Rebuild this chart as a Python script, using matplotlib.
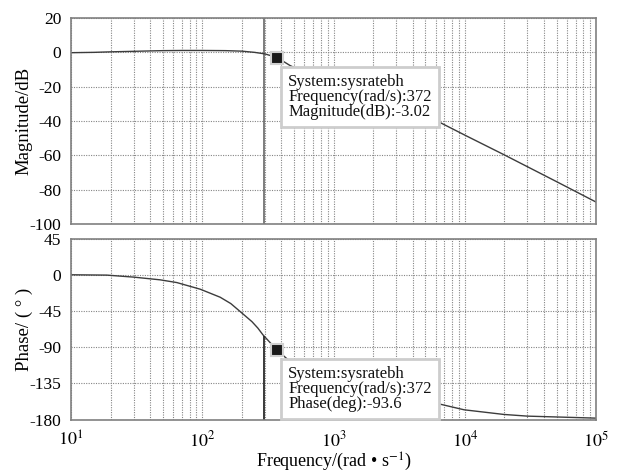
import matplotlib
matplotlib.use('Agg')
import matplotlib.pyplot as plt
import numpy as np
from matplotlib.ticker import FixedLocator, NullFormatter

# ---------------- data ----------------
mag_freq = [10, 15, 20, 30, 50, 70, 100, 150, 200, 250, 300, 372, 467, 700, 1000,
            2000, 4000, 6010, 10000, 19860, 50000, 100000]
mag_db = [-0.2, 0.0, 0.3, 0.6, 1.0, 1.1, 1.1, 1.0, 0.7, 0.0, -0.9, -3.02, -7.7,
          -14.0, -19.0, -27.0, -35.0, -39.6, -48.2, -59.6, -75.3, -87.2]

phase_freq = [10, 18.7, 30, 47.8, 64, 96.6, 137, 165, 195, 239, 265, 290, 372, 500,
              1000, 2000, 4000, 6010, 9890, 19860, 30100, 54000, 100000]
phase_deg = [0.4, 0.0, -2.5, -5.9, -9.3, -17.6, -27.6, -35.5, -45.6, -58.0, -66.0,
             -74.5, -93.6, -112.0, -138.0, -150.0, -156.0, -159.6, -167.9, -173.7,
             -175.8, -177.0, -178.3]

tip_freq = 372
tip_mag = -3.02
tip_phase = -93.6
system_name = 'sysratebh'
artifact_freq = 295  # dark vertical stroke visible in both panels

x_ticks = [10, 100, 1000, 10000, 100000]
x_ticklabels = ['$10^{1}$', '$10^{2}$', '$10^{3}$', '$10^{4}$', '$10^{5}$']
mag_ticks = [20, 0, -20, -40, -60, -80, -100]
mag_ticklabels = ['20', '0', '-20', '-40', '-60', '-80', '-100']
phase_ticks = [45, 0, -45, -90, -135, -180]
phase_ticklabels = ['45', '0', '-45', '-90', '-135', '-180']

# ---------------- style ----------------
plt.rcParams['font.family'] = ['Liberation Serif', 'DejaVu Serif']
plt.rcParams['mathtext.fontset'] = 'stix'

LINE = '#3c3c3c'
GRID = '#858585'
SPINE = '#808080'

fig = plt.figure(figsize=(6.17, 4.73), dpi=100)
fig.patch.set_facecolor('white')
ax1 = fig.add_axes([0.1151, 0.5264, 0.8509, 0.4355])
ax2 = fig.add_axes([0.1151, 0.1131, 0.8509, 0.3816])

minor = [m * 10 ** d for d in range(1, 5) for m in range(2, 10)]

for ax in (ax1, ax2):
    ax.set_xscale('log')
    ax.set_xlim(10, 1e5)
    ax.xaxis.set_major_locator(FixedLocator(x_ticks))
    ax.xaxis.set_minor_locator(FixedLocator(minor))
    ax.xaxis.set_minor_formatter(NullFormatter())
    ax.grid(True, which='both', axis='x', linestyle=(0, (1, 1.2)), color=GRID, lw=0.8)
    ax.grid(True, which='major', axis='y', linestyle=(0, (1, 1.2)), color=GRID, lw=0.8)
    ax.tick_params(which='both', length=0)
    ax.tick_params(axis='y', pad=7, labelsize=12.5)
    ax.tick_params(axis='x', pad=8, labelsize=13)
    for sp in ax.spines.values():
        sp.set_color(SPINE)
        sp.set_linewidth(1.2)
    ax.set_axisbelow(True)

# magnitude
ax1.set_ylim(-100, 20)
ax1.set_yticks(mag_ticks)
ax1.set_yticklabels(mag_ticklabels)
ax1.set_xticklabels([])
ax1.plot(mag_freq, mag_db, color=LINE, lw=1.0, zorder=2)
ax1.axvline(artifact_freq, color='#5a5a5a', lw=1.1, zorder=1.5)
ax1.set_ylabel('Magnitude/dB', fontsize=13.5)
ax1.yaxis.set_label_coords(-0.073, 0.5)

# phase
ax2.set_ylim(-180, 45)
ax2.set_yticks(phase_ticks)
ax2.set_yticklabels(phase_ticklabels)
ax2.set_xticklabels(x_ticklabels)
ax2.plot(phase_freq, phase_deg, color=LINE, lw=1.0, zorder=2)
art_ph = np.interp(np.log10(artifact_freq), np.log10(phase_freq), phase_deg)
ax2.vlines(artifact_freq, -180, art_ph, color='#2a2a2a', lw=1.3, zorder=2)
ax2.set_ylabel('Phase/ ( ° )', fontsize=13.5)
ax2.yaxis.set_label_coords(-0.073, 0.5)
ax2.set_xlabel('Frequency/(rad • s$^{-1}$)', fontsize=13)
ax2.xaxis.set_label_coords(0.5, -0.263)
ax2.xaxis.label.set_va('baseline')

# data tips
def datatip(ax, x, y, txt):
    ann = ax.annotate(txt, xy=(x, y), xytext=(11, -16), textcoords='offset pixels',
                      ha='left', va='top', fontsize=12, linespacing=0.92,
                      color='#111111',
                      bbox=dict(boxstyle='square,pad=0.42', fc='white',
                                ec='#cdcdcd', lw=2.0),
                      zorder=5)
    ann.set_clip_on(True)
    ax.plot([x], [y], marker='s', ms=8, mfc='#1a1a1a', mec='#d0d0d0', mew=1.5,
            zorder=6, clip_on=False)

datatip(ax1, tip_freq, tip_mag,
        f'System:{system_name}\nFrequency(rad/s):{tip_freq}\nMagnitude(dB):{tip_mag:.2f}')
datatip(ax2, tip_freq, tip_phase,
        f'System:{system_name}\nFrequency(rad/s):{tip_freq}\nPhase(deg):{tip_phase:.1f}')

fig.savefig('out.png', dpi=100, facecolor='white')
